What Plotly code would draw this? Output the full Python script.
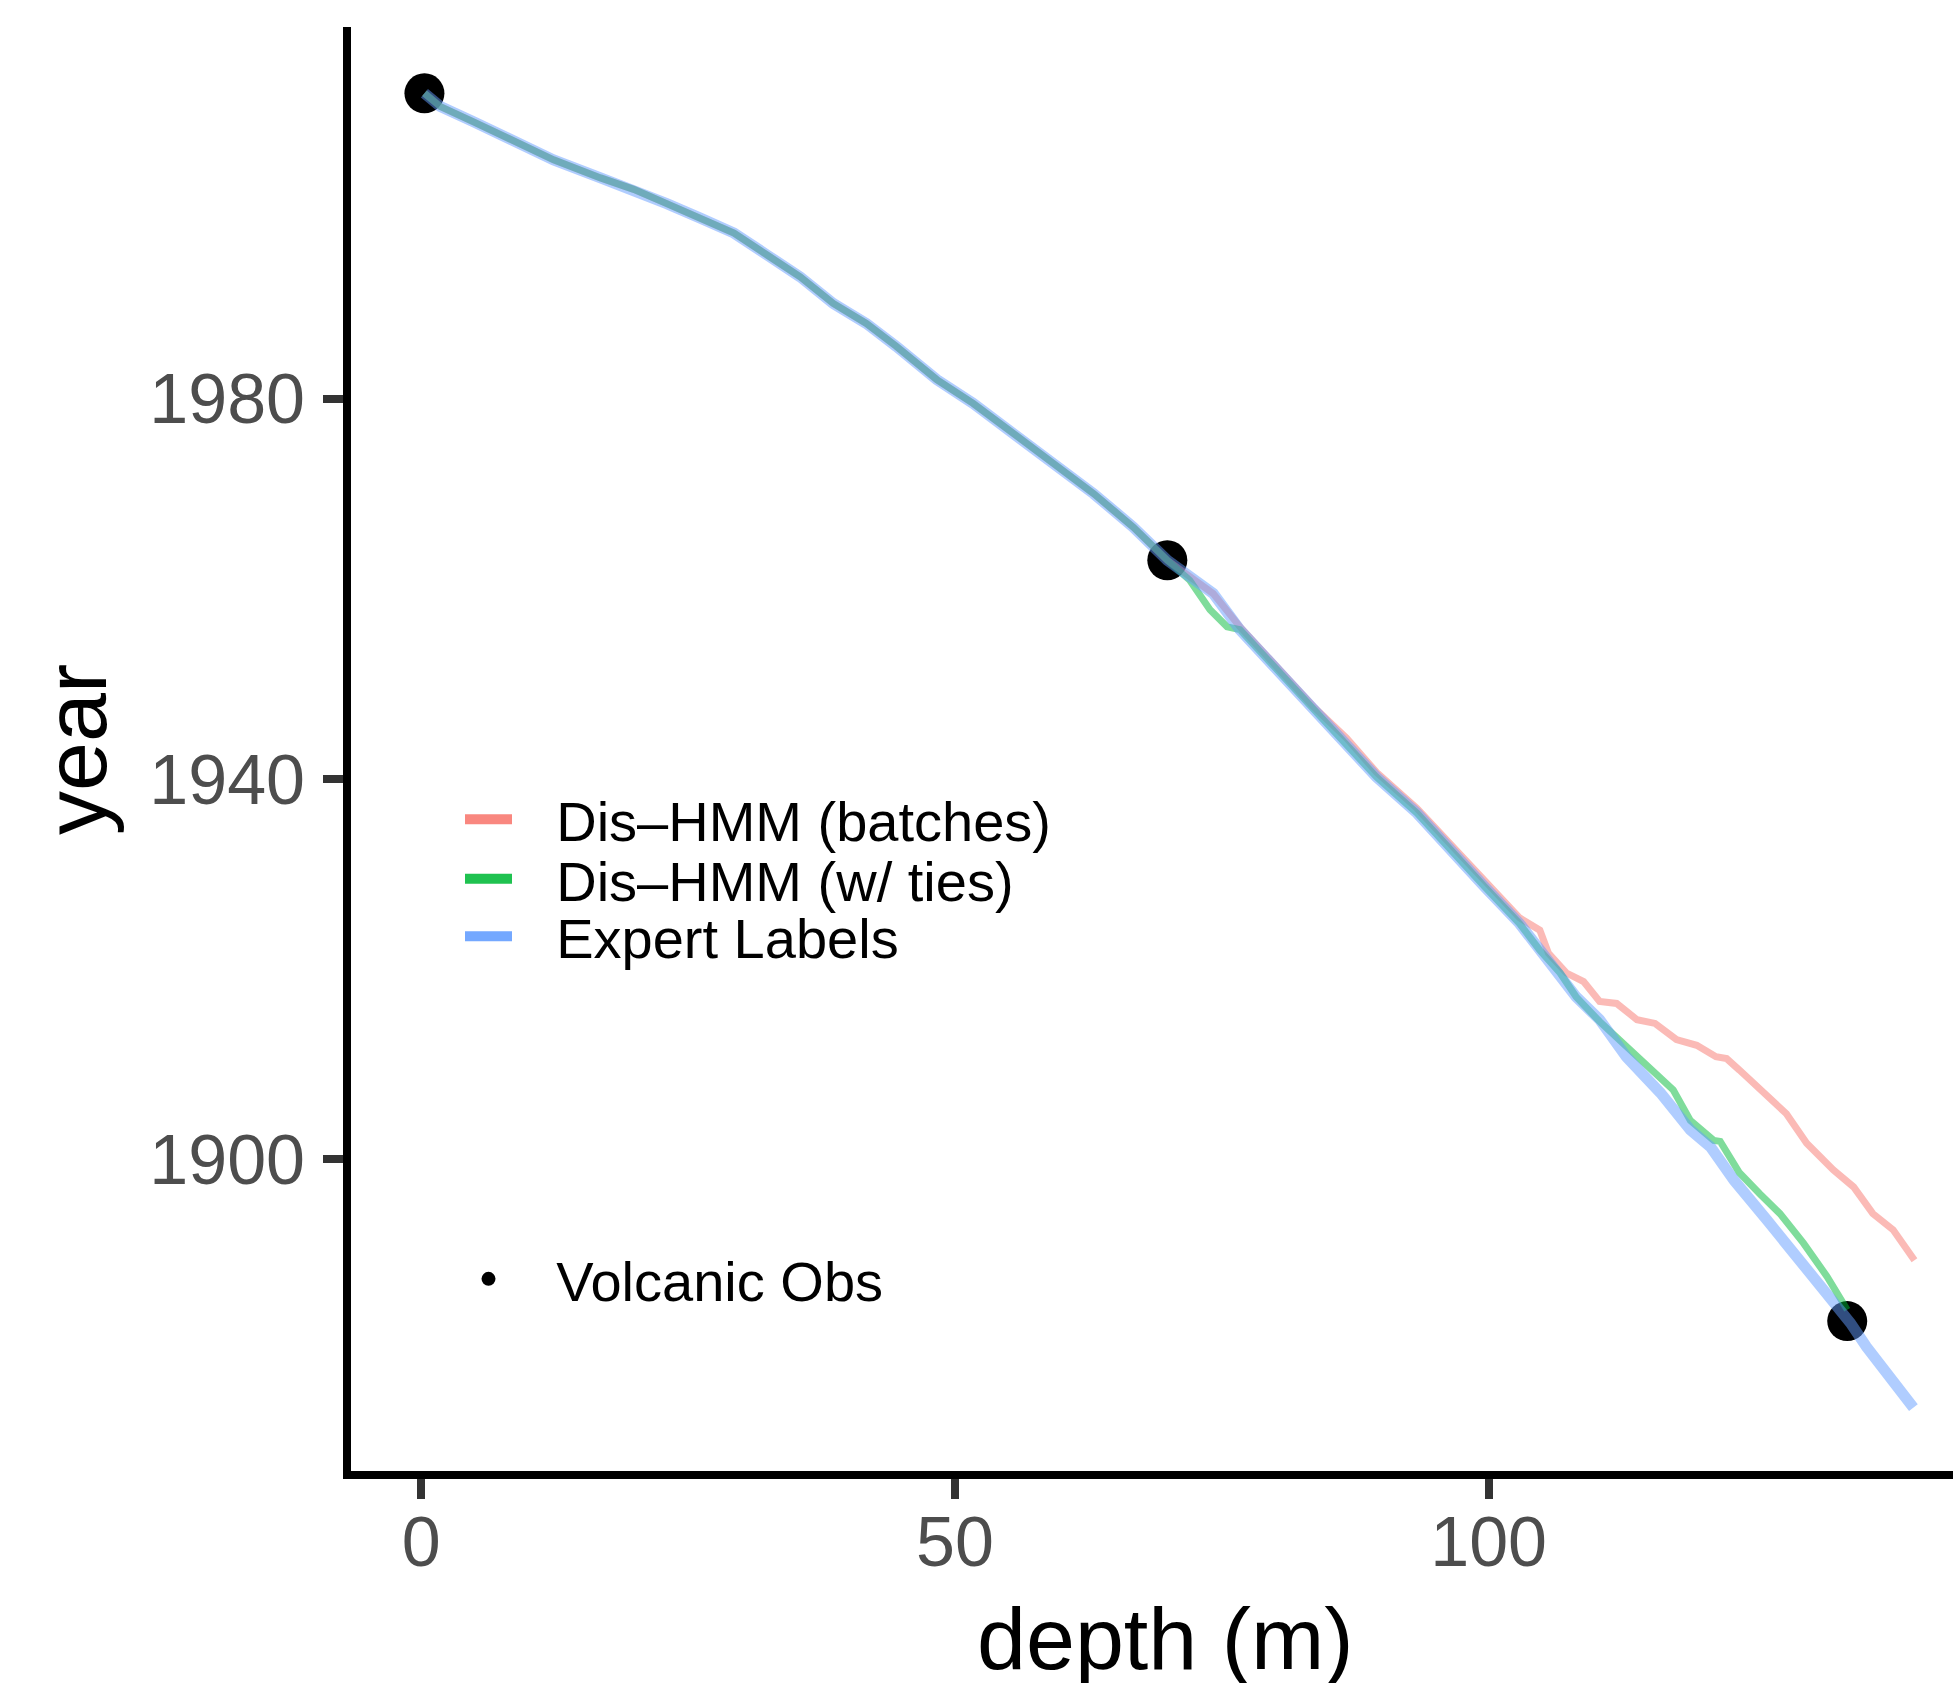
import plotly.graph_objects as go

# ---------------- data ----------------
common_depth = [0.3, 1.8, 4.9, 8.6, 12.4, 16.8, 19.9, 23.0, 26.1, 29.3, 32.4, 35.5,
                38.6, 41.7, 44.5, 48.3, 51.7, 55.5, 59.2, 63.0, 66.7, 69.9]
common_year = [2012.1, 2010.7, 2009.1, 2007.2, 2005.1, 2003.2, 2002.0, 2000.5, 1999.0,
               1997.4, 1995.1, 1992.8, 1990.0, 1987.9, 1985.5, 1982.0, 1979.5, 1976.4,
               1973.2, 1970.0, 1966.5, 1963.0]

batches_depth = common_depth + [74.2, 76.7, 80.5, 83.6, 86.7, 89.5, 93.3, 96.4, 99.6, 102.9,
                                104.8, 105.6, 107.3, 108.9, 110.4, 112.0, 113.9, 115.6, 117.6,
                                119.5, 121.3, 122.3, 123.5, 126.0, 127.9, 129.8, 132.3, 134.2,
                                136.0, 137.9, 139.9]
batches_year = common_year + [1959.5, 1956.0, 1951.3, 1947.6, 1944.3, 1940.7, 1936.9, 1933.1,
                              1929.3, 1925.4, 1924.1, 1921.7, 1919.6, 1918.7, 1916.6, 1916.4,
                              1914.7, 1914.3, 1912.6, 1912.0, 1910.8, 1910.6, 1909.4, 1906.9,
                              1904.8, 1901.7, 1898.9, 1897.1, 1894.3, 1892.6, 1889.4]

ties_depth = common_depth + [72.0, 73.9, 75.5, 76.7, 80.5, 83.6, 86.7, 89.5, 93.3, 96.4, 99.6,
                             102.9, 104.8, 106.7, 108.2, 110.4, 112.9, 115.1, 117.3, 118.9,
                             121.1, 121.7, 123.5, 125.4, 127.3, 129.5, 131.7, 133.6]
ties_year = common_year + [1960.9, 1957.8, 1956.0, 1955.7, 1951.1, 1947.3, 1943.8, 1940.2,
                           1936.4, 1932.5, 1928.7, 1924.8, 1922.0, 1919.6, 1917.1, 1914.5,
                           1911.9, 1909.8, 1907.3, 1904.1, 1902.0, 1901.9, 1898.6, 1896.4,
                           1894.3, 1891.2, 1887.7, 1884.2]

expert_depth = common_depth + [74.2, 76.7, 80.5, 83.6, 86.7, 89.5, 93.3, 96.4, 99.6, 102.9,
                               104.8, 106.7, 108.2, 110.4, 112.9, 116.1, 118.9, 120.8, 123.0,
                               126.1, 129.2, 132.3, 133.9, 135.4, 137.6, 139.8]
expert_year = common_year + [1959.5, 1955.7, 1951.1, 1947.3, 1943.8, 1940.2, 1936.4, 1932.5,
                             1928.7, 1924.8, 1922.0, 1919.6, 1917.1, 1914.7, 1910.8, 1907.0,
                             1903.1, 1901.3, 1897.8, 1893.6, 1889.4, 1885.2, 1882.8, 1880.3,
                             1877.2, 1873.9]

volcanic_depth = [0.3, 69.9, 133.6]
volcanic_year = [2012.1, 1963.0, 1883.0]

series_names = ["Dis\u2013HMM (batches)", "Dis\u2013HMM (w/ ties)", "Expert Labels"]
obs_name = "Volcanic Obs"
x_ticks = [0, 50, 100]
y_ticks = [1900, 1940, 1980]

# ---------------- styling ----------------
FONT = "Liberation Sans, Arial, Helvetica, sans-serif"
line_colors = ["rgba(248,118,109,0.5)", "rgba(0,186,56,0.5)", "rgba(97,156,255,0.5)"]
key_colors = ["rgba(248,118,109,0.88)", "rgba(0,186,56,0.88)", "rgba(97,156,255,0.88)"]
line_widths = [7, 7, 11]
KEY_PAD = "\u2002\u2009"  # gap between legend key and its label, as in the ggplot guide

fig = go.Figure()

fig.add_trace(go.Scatter(x=volcanic_depth, y=volcanic_year, mode="markers",
                         marker=dict(color="black", size=40, line=dict(width=0)),
                         showlegend=False, hoverinfo="skip"))

for xs, ys, c, w in zip([batches_depth, ties_depth, expert_depth],
                        [batches_year, ties_year, expert_year], line_colors, line_widths):
    fig.add_trace(go.Scatter(x=xs, y=ys, mode="lines",
                             line=dict(color=c, width=w), showlegend=False))

# legend entries (one legend each, positioned like the ggplot guide)
legend_ids = ["legend", "legend2", "legend3"]
for name, c, lid in zip(series_names, key_colors, legend_ids):
    fig.add_trace(go.Scatter(x=[None], y=[None], mode="lines", name=KEY_PAD + name,
                             line=dict(color=c, width=10), legend=lid, showlegend=True))
fig.add_trace(go.Scatter(x=[None], y=[None], mode="markers", name=KEY_PAD + obs_name,
                         marker=dict(color="black", size=14), legend="legend4",
                         showlegend=True))

leg_common = dict(x=(460 - 351) / 1602, xanchor="left", yanchor="middle",
                  bgcolor="rgba(0,0,0,0)", borderwidth=0, itemwidth=47,
                  font=dict(family=FONT, size=56, color="black"))

axis_common = dict(showline=True, linecolor="black", linewidth=8, ticks="outside",
                   ticklen=20, tickwidth=8, tickcolor="#333333", showgrid=False,
                   zeroline=False, mirror=False,
                   tickfont=dict(family=FONT, size=70, color="#4D4D4D"))

fig.update_layout(
    width=1953, height=1683,
    margin=dict(l=351, r=0, t=27, b=212, pad=0),
    paper_bgcolor="white", plot_bgcolor="white",
    xaxis=dict(range=[-6.58, 143.51], tickvals=x_ticks, ticklabelstandoff=-17, **axis_common),
    yaxis=dict(range=[1867.24, 2019.07], tickvals=y_ticks, ticklabelstandoff=4, **axis_common),
    legend=dict(y=0.4512, **leg_common),
    legend2=dict(y=0.4100, **leg_common),
    legend3=dict(y=0.3702, **leg_common),
    legend4=dict(y=0.1330, **leg_common),
    annotations=[
        dict(text="depth (m)", xref="paper", yref="paper", x=0.5087, y=-0.1163,
             xanchor="center", yanchor="middle", showarrow=False,
             font=dict(family=FONT, size=88, color="black")),
        dict(text="year", xref="paper", yref="paper", x=-0.1723, y=0.5,
             xanchor="center", yanchor="middle", showarrow=False, textangle=-90,
             font=dict(family=FONT, size=88, color="black")),
    ],
)

fig.write_html("out.html", config={"displayModeBar": False},
               post_script="document.body.style.margin='0';document.body.style.overflow='hidden';")
